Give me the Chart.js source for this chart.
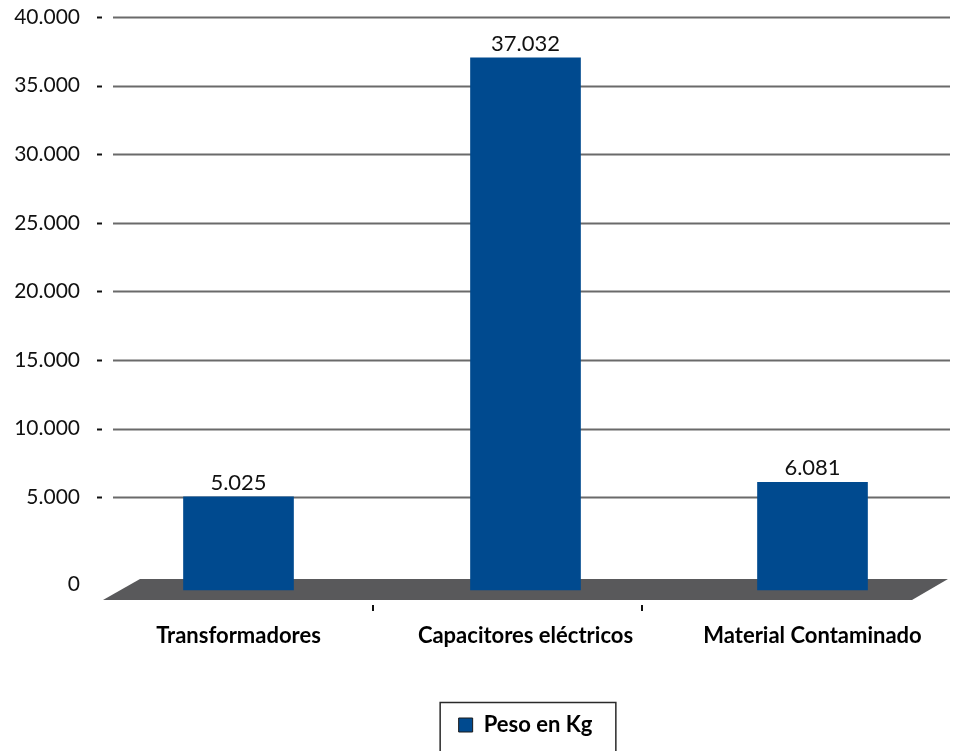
<!DOCTYPE html>
<html lang="es">
<head>
<meta charset="utf-8">
<title>Peso en Kg</title>
<script src="https://cdn.jsdelivr.net/npm/chart.js@4"></script>
<style>
  html, body { margin: 0; padding: 0; background: #ffffff; }
  canvas { display: block; }
</style>
</head>
<body>
<canvas id="chart" width="956" height="751"></canvas>
<script>
// Categories and weights (kg)
const categories = ['Transformadores', 'Capacitores eléctricos', 'Material Contaminado'];
const pesoKg = [5025, 37032, 6081];
const seriesLabel = 'Peso en Kg';

// Value-axis ticks
const yTickValues = [0, 5000, 10000, 15000, 20000, 25000, 30000, 35000, 40000];

const FONT = 'Lato, "Open Sans", "DejaVu Sans", sans-serif';
const BAR_BLUE = '#004a8f';
const FLOOR_GREY = '#59595b';

// Spanish thousands separator: 37032 -> "37.032"
function fmt(v) {
  return String(Math.round(v)).replace(/\B(?=(\d{3})+(?!\d))/g, '.');
}

// Depth of the zero plane below the front of the chart, in data units
const ZERO_PLANE = -1330;

const floorPlugin = {
  id: 'floor3d',
  beforeDatasetsDraw(chart) {
    const { ctx, chartArea } = chart;
    const { left, right, bottom } = chartArea;
    const y = chart.scales.y;
    ctx.save();
    // horizontal grid lines and left tick dashes
    y.ticks.forEach(t => {
      if (t.value <= 0) return;
      const py = Math.round(y.getPixelForValue(t.value)) + 0.5;
      ctx.strokeStyle = '#6a6a6a';
      ctx.lineWidth = 1.8;
      ctx.beginPath();
      ctx.moveTo(left + 18, py);
      ctx.lineTo(right - 6, py);
      ctx.stroke();
      ctx.strokeStyle = '#111111';
      ctx.lineWidth = 2;
      ctx.beginPath();
      ctx.moveTo(left + 2, py);
      ctx.lineTo(left + 7, py);
      ctx.stroke();
    });
    // floor slab
    ctx.fillStyle = FLOOR_GREY;
    ctx.beginPath();
    ctx.moveTo(left + 8, bottom);
    ctx.lineTo(left + 45, bottom - 21);
    ctx.lineTo(right - 8, bottom - 21);
    ctx.lineTo(right - 44, bottom);
    ctx.closePath();
    ctx.fill();
    ctx.restore();
  },
  afterDatasetsDraw(chart) {
    const { ctx } = chart;
    const meta = chart.getDatasetMeta(0);
    const values = chart.data.datasets[0].data;
    ctx.save();
    ctx.font = '22px ' + FONT;
    ctx.fillStyle = '#111111';
    ctx.textAlign = 'center';
    ctx.textBaseline = 'bottom';
    meta.data.forEach((bar, i) => {
      ctx.fillText(fmt(values[i]), bar.x, bar.y - 3);
    });
    ctx.restore();
  },
  afterDraw(chart) {
    const { ctx, chartArea } = chart;
    const { left, right, bottom } = chartArea;
    ctx.save();
    // category separators along the front edge of the floor
    const fl = left + 8, fr = right - 44;
    const n = categories.length;
    ctx.strokeStyle = '#111111';
    ctx.lineWidth = 2;
    for (let i = 1; i < n; i++) {
      const px = Math.round(fl + (fr - fl) * i / n);
      ctx.beginPath();
      ctx.moveTo(px, bottom + 5);
      ctx.lineTo(px, bottom + 11);
      ctx.stroke();
    }
    // frame around the legend
    const lg = chart.legend;
    if (lg && lg.legendHitBoxes && lg.legendHitBoxes.length) {
      const hb = lg.legendHitBoxes[0];
      const cy = hb.top + hb.height / 2;
      ctx.strokeStyle = '#2a2a2a';
      ctx.lineWidth = 1.5;
      ctx.strokeRect(hb.left - 18.5, Math.round(cy - 23) + 0.5, hb.width + 42, 80);
    }
    ctx.restore();
  }
};

new Chart(document.getElementById('chart'), {
  type: 'bar',
  data: {
    labels: categories,
    datasets: [{
      label: seriesLabel,
      data: pesoKg,
      backgroundColor: BAR_BLUE,
      borderWidth: 0,
      barThickness: 110,
      base: [-1770, -1770, -1260]
    }]
  },
  options: {
    responsive: false,
    animation: false,
    layout: { padding: { top: 17, left: 0, right: 0, bottom: 5 } },
    plugins: {
      tooltip: { enabled: false },
      legend: {
        position: 'bottom',
        fullSize: false,
        labels: {
          font: { family: FONT, size: 22, weight: 'bold' },
          color: '#000000',
          boxWidth: 14,
          boxHeight: 14,
          padding: 10,
          generateLabels(chart) {
            const ds = chart.data.datasets[0];
            return [{
              text: ds.label,
              fillStyle: ds.backgroundColor,
              strokeStyle: '#1a1a1a',
              lineWidth: 1,
              datasetIndex: 0,
              hidden: false
            }];
          }
        }
      }
    },
    scales: {
      x: {
        offset: true,
        grid: { display: false, drawTicks: false },
        border: { display: false },
        ticks: {
          font: { family: FONT, size: 22, weight: 'bold' },
          color: '#000000',
          padding: 23,
          maxRotation: 0,
          autoSkip: false
        },
        afterFit(scale) {
          scale.height = 104;
          scale.paddingLeft = 0;
          scale.paddingRight = 0;
        }
      },
      y: {
        min: -2500,
        max: 40000,
        grid: { display: false, drawTicks: false },
        border: { display: false },
        afterBuildTicks(scale) {
          scale.ticks = yTickValues.map(v => ({ value: v === 0 ? ZERO_PLANE : v }));
        },
        ticks: {
          font: { family: FONT, size: 21 },
          color: '#111111',
          padding: 15,
          callback: (v) => fmt(Math.max(0, v))
        },
        afterFit(scale) {
          scale.width = 95;
          scale.paddingTop = 0;
          scale.paddingBottom = 0;
        }
      }
    }
  },
  plugins: [floorPlugin]
});
</script>
</body>
</html>
